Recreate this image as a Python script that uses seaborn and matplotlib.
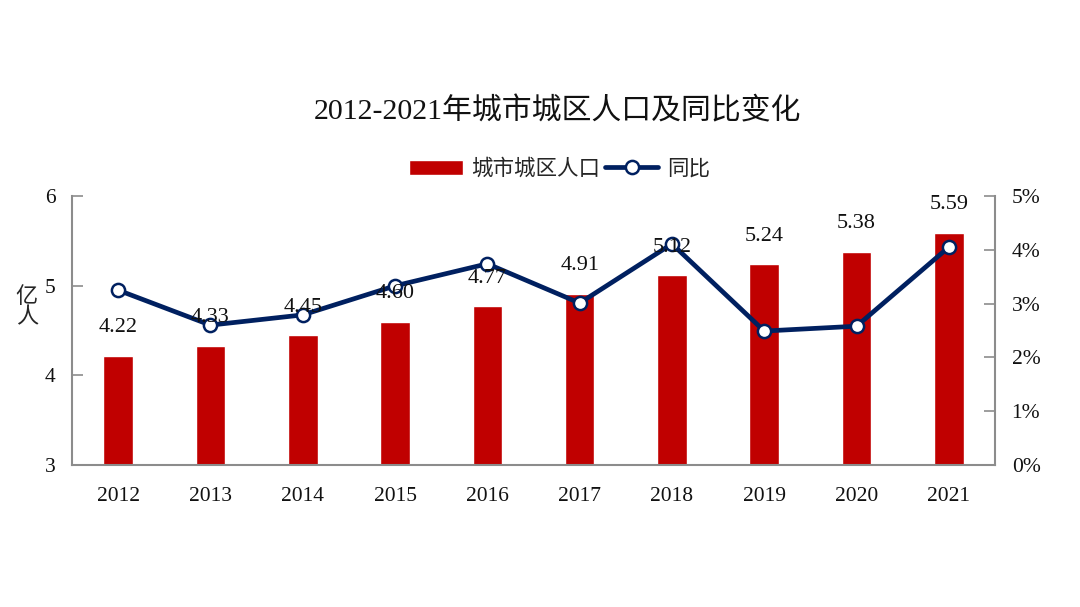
import numpy as np
import pandas as pd
import matplotlib
matplotlib.use("Agg")
import matplotlib.pyplot as plt
import seaborn as sns

years = ["2012", "2013", "2014", "2015", "2016", "2017", "2018", "2019", "2020", "2021"]
population = [4.22, 4.33, 4.45, 4.60, 4.77, 4.91, 5.12, 5.24, 5.38, 5.59]
yoy = [3.25, 2.60, 2.79, 3.33, 3.74, 3.01, 4.11, 2.49, 2.58, 4.05]  # %

sns.set_style("white")
plt.rcParams["font.family"] = ["Liberation Serif", "Noto Sans CJK SC", "DejaVu Sans"]

BAR = "#C00000"
LINE = "#002060"
GRAY = "#8c8c8c"

df = pd.DataFrame({"year": years, "pop": population, "yoy": yoy})

fig = plt.figure(figsize=(10.8, 6.07), dpi=100)
ax = fig.add_axes([72 / 1080, 1 - 465 / 607, 923 / 1080, 269 / 607])

sns.barplot(data=df, x="year", y="pop", color=BAR, width=0.32, saturation=1,
            ax=ax, label="城市城区人口")
ax.set_ylim(3, 6)
ax.set_yticks([3, 4, 5, 6])
ax.set_xlim(-0.5, len(years) - 0.5)
ax.set_xlabel("")
ax.set_ylabel("")

ax2 = ax.twinx()
sns.lineplot(x=np.arange(len(years)), y=yoy, ax=ax2, color=LINE, linewidth=3.4,
             marker="o", markersize=9.5, markerfacecolor="white",
             markeredgecolor=LINE, markeredgewidth=1.8, label="同比")
ax2.set_ylim(0, 5)
ax2.set_yticks([0, 1, 2, 3, 4, 5])
ax2.set_yticklabels([f"{t}%" for t in range(6)])
ax2.set_ylabel("")

# bar value labels, drawn above the line
for i, v in enumerate(population):
    ax2.text(i, v + 0.31, f"{v:.2f}", ha="center", va="center", fontsize=16,
             color="#111111", transform=ax.transData, zorder=10)

for a in (ax, ax2):
    for s in a.spines.values():
        s.set_visible(False)
    a.tick_params(axis="both", labelsize=15.5, colors="#111111")
    a.tick_params(axis="y", direction="in", length=8, width=1.2, color=GRAY)
    a.tick_params(axis="x", length=0, pad=16)
ax.spines["left"].set_visible(True)
ax.spines["bottom"].set_visible(True)
ax2.spines["right"].set_visible(True)
for s in (ax.spines["left"], ax.spines["bottom"], ax2.spines["right"]):
    s.set_color(GRAY)
    s.set_linewidth(1.5)
ax.tick_params(axis="y", pad=12)
ax2.tick_params(axis="y", pad=12)

ax.text(-0.049, 0.59, "亿\n人", transform=ax.transAxes, ha="center", va="center",
        fontsize=16, family=["Noto Sans CJK SC"], linespacing=0.85)

# legend
h1, l1 = ax.get_legend_handles_labels()
h2, l2 = ax2.get_legend_handles_labels()
if ax2.get_legend():
    ax2.get_legend().remove()
if ax.get_legend():
    ax.get_legend().remove()
fig.legend(h1 + h2, l1 + l2, loc="center", bbox_to_anchor=(0.518, 1 - 169 / 607),
           ncol=2, frameon=False, handlelength=2.5, columnspacing=0.2,
           handletextpad=0.4, prop={"family": "Noto Sans CJK SC", "size": 15.5})

fig.text(0.516, 1 - 111 / 607, "2012-2021年城市城区人口及同比变化", ha="center",
         va="center", fontsize=21.5, color="#111111")

fig.savefig("out.png", dpi=100)
